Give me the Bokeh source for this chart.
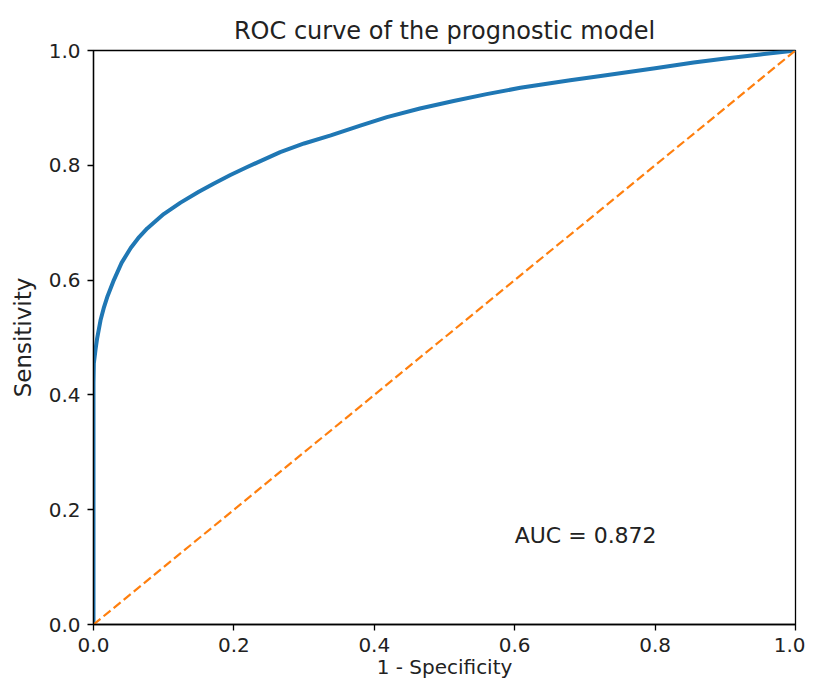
from bokeh.plotting import figure
from bokeh.models import Range1d, FixedTicker, ColumnDataSource
from bokeh.embed import file_html
from bokeh.resources import INLINE
from bokeh.core.properties import value

# ROC curve values
fpr = [0.0, 0.0, 0.0005, 0.003, 0.005, 0.010, 0.015, 0.020, 0.029, 0.040, 0.053,
       0.065, 0.0765, 0.100, 0.124, 0.150, 0.171, 0.195, 0.219, 0.266, 0.300,
       0.338, 0.380, 0.418, 0.465, 0.513, 0.560, 0.608, 0.679, 0.720, 0.760,
       0.800, 0.855, 0.900, 0.950, 1.0]
tpr = [0.0, 0.42, 0.455, 0.480, 0.497, 0.530, 0.553, 0.572, 0.600, 0.630, 0.656,
       0.675, 0.690, 0.715, 0.735, 0.754, 0.768, 0.783, 0.797, 0.823, 0.838,
       0.852, 0.869, 0.884, 0.899, 0.912, 0.924, 0.935, 0.948, 0.955, 0.962,
       0.969, 0.979, 0.986, 0.993, 1.0]
chance_x = [0.0, 1.0]
chance_y = [0.0, 1.0]
ticks = [0.0, 0.2, 0.4, 0.6, 0.8, 1.0]
tick_labels = ["0.0", "0.2", "0.4", "0.6", "0.8", "1.0"]
auc_x = [0.6]
auc_y = [0.155]
auc_text = ["AUC = 0.872"]
x_label = "1 - Specificity"
y_label = "Sensitivity"

FONT = "DejaVu Sans"

p = figure(width=805, height=681, output_backend="svg", toolbar_location=None,
           x_range=Range1d(0, 1), y_range=Range1d(0, 1),
           title="ROC curve of the prognostic model",
           min_border_left=93, min_border_right=10, min_border_top=50,
           min_border_bottom=55)

p.title.align = "center"
p.title.text_font = FONT
p.title.text_font_size = "24px"
p.title.text_font_style = "normal"
p.title.text_color = "#222222"
p.title.offset = 0
p.title.standoff = 12

p.xgrid.visible = False
p.ygrid.visible = False
p.outline_line_color = "black"
p.outline_line_width = 1.3
p.outline_line_alpha = 1.0
p.background_fill_color = "white"
p.border_fill_color = "white"

for ax in (p.xaxis[0], p.yaxis[0]):
    ax.ticker = FixedTicker(ticks=ticks)
    ax.major_label_overrides = {t: l for t, l in zip(ticks, tick_labels)}
    ax.minor_tick_line_color = None
    ax.major_tick_in = 0
    ax.major_tick_out = 6
    ax.major_tick_line_width = 1.3
    ax.axis_line_width = 1.3
    ax.major_label_text_font = FONT
    ax.major_label_text_font_size = "20px"
    ax.major_label_text_color = "#222222"
    ax.axis_label_text_font = FONT
    ax.axis_label_text_font_style = "normal"
    ax.axis_label_text_color = "#222222"

p.xaxis.axis_label = x_label
p.yaxis.axis_label = y_label
p.xaxis.axis_label_text_font_size = "20px"
p.yaxis.axis_label_text_font_size = "23px"
p.xaxis.major_label_standoff = 7
p.yaxis.major_label_standoff = 7
p.xaxis.axis_label_standoff = 0
p.yaxis.axis_label_standoff = 10

p.line(x=fpr, y=tpr, line_color="#1f77b4", line_width=4, line_join="round")
p.line(x=chance_x, y=chance_y, line_color="#ff7f0e", line_width=2.2, line_dash="9 4")

src = ColumnDataSource(dict(x=auc_x, y=auc_y, t=auc_text))
p.text(x="x", y="y", text="t", source=src, text_font=value(FONT),
       text_font_size="22px", text_baseline="middle", text_align="left",
       text_color="#222222")

open("out.html", "w").write(file_html(p, INLINE))
